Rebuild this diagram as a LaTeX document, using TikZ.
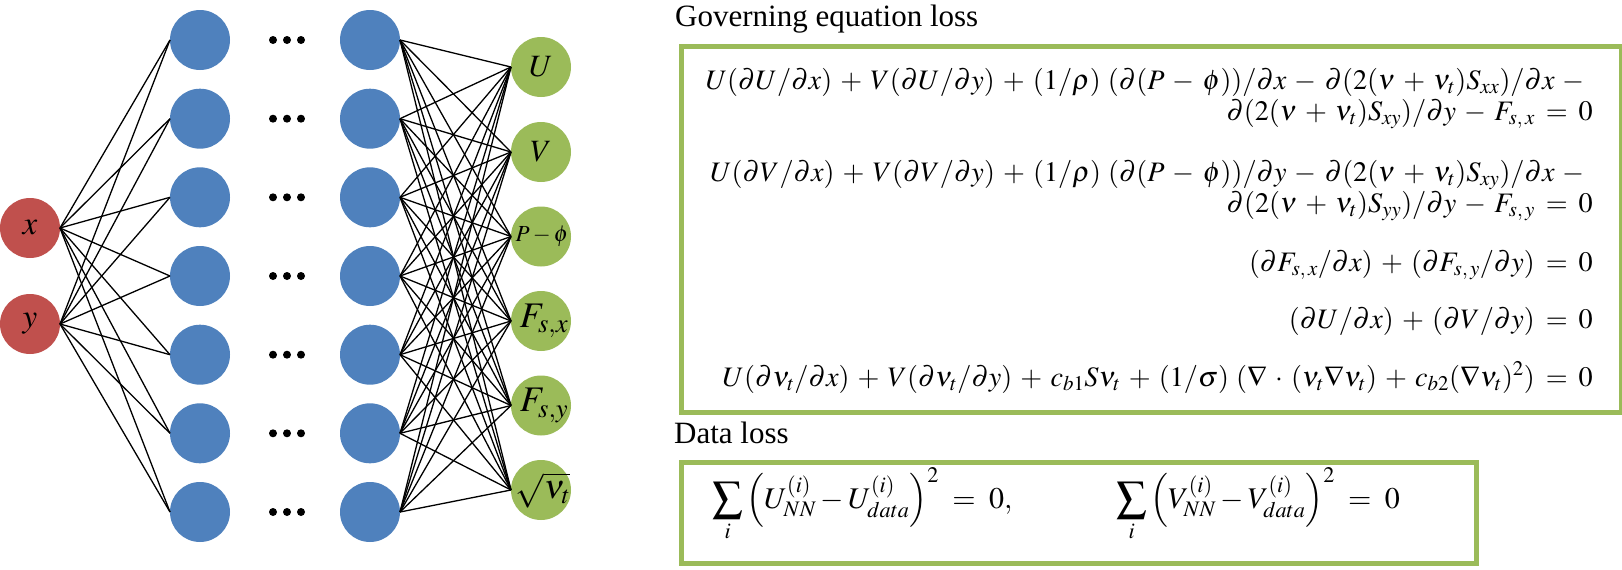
\documentclass[tikz,border=0pt]{standalone}
\usepackage{mathptmx}
\usepackage[no-math]{fontspec}
\setmainfont{Liberation Serif}
\definecolor{nred}{HTML}{C0504D}
\definecolor{nblue}{HTML}{4F81BD}
\definecolor{ngreen}{HTML}{9BBB59}
\newcommand{\eqfont}{\fontsize{28.2}{31}\selectfont\medmuskip=5.2mu plus 2mu minus 2mu\relax\thickmuskip=7mu plus 3mu\relax}
\newcommand{\datafont}{\fontsize{30}{34}\selectfont\thickmuskip=8mu\relax}
\begin{document}
\begin{tikzpicture}[x=1pt,y=-1pt, font=\fontsize{31}{36}\selectfont,
  neuron/.style={circle, minimum size=60pt, inner sep=0pt, outer sep=0pt},
  innode/.style={neuron, fill=nred},
  hidnode/.style={neuron, fill=nblue},
  outnode/.style={neuron, fill=ngreen},
  conn/.style={line width=1.3pt, black},
  lossbox/.style={draw=ngreen, line width=5pt, anchor=north west, inner sep=0pt},
  eqn/.style={anchor=base east, inner sep=0pt, font=\eqfont},
  title/.style={anchor=base west, inner sep=0pt},
  dataeq/.style={anchor=base west, inner sep=0pt, font=\datafont},
  dotmark/.style={circle, fill=black, minimum size=8pt, inner sep=0pt}
]
\useasboundingbox (0,0) rectangle (1622,570);
% input nodes
\node[innode, label={[font=\fontsize{33}{36}\selectfont]center:{$x$}}] (x) at (30,228) {};
\node[innode, label={[font=\fontsize{33}{36}\selectfont]center:{$y$}}] (y) at (30,324) {};
% hidden layers
\foreach \i/\yy in {1/40,2/118.7,3/197.3,4/276,5/354.7,6/433.3,7/512}{
  \node[hidnode] (a\i) at (200,\yy) {};
  \node[hidnode] (b\i) at (370,\yy) {};
  \node[dotmark] (d\i l) at (273,\yy) {};
  \node[dotmark] (d\i m) at (287,\yy) {};
  \node[dotmark] (d\i r) at (301,\yy) {};
}
% output nodes
\node[outnode, label={[font=\fontsize{31}{36}\selectfont]center:{$U$}}] (o1) at (541,67) {};
\node[outnode, label={[font=\fontsize{31}{36}\selectfont]center:{$V$}}] (o2) at (541,152) {};
\node[outnode, label={[font=\fontsize{23}{26}\selectfont, xshift=1pt]center:{$P-\phi$}}] (o3) at (541,236.5) {};
\node[outnode, label={[font=\fontsize{36}{40}\selectfont, xshift=3pt]center:{$F_{s,x}$}}] (o4) at (541,321) {};
\node[outnode, label={[font=\fontsize{36}{40}\selectfont, xshift=3pt]center:{$F_{s,y}$}}] (o5) at (541,405.5) {};
\node[outnode, label={[font=\fontsize{34}{40}\selectfont, xshift=2pt]center:{$\sqrt{\nu_t}$}}] (o6) at (541,490) {};
% connections
\foreach \i in {1,...,7}{
  \draw[conn] (x.east) -- (a\i.west);
  \draw[conn] (y.east) -- (a\i.west);
  \foreach \j in {1,...,6}{
    \draw[conn] (b\i.east) -- (o\j.west);
  }
}
% titles and boxes
\node[title] (tgov) at (675,27) {Governing equation loss};
\node[lossbox, minimum width=940pt, minimum height=366.5pt] (govbox) at (678.5,43.5) {};
\node[title] (tdata) at (674,443) {Data loss};
\node[lossbox, minimum width=795.5pt, minimum height=101pt] (databox) at (678.5,459.5) {};
% governing equations
\node[eqn] (e1) at (1593,89) {$U(\partial U/\partial x) + V(\partial U/\partial y) + (1/\rho)\ (\partial(P-\phi))/\partial x - \partial(2(\nu+\nu_t)S_{xx})/\partial x -{}$};
\node[eqn] (e2) at (1593,120) {$\partial(2(\nu+\nu_t)S_{xy})/\partial y - F_{s,\,x} = 0$};
\node[eqn] (e3) at (1593,181) {$U(\partial V/\partial x) + V(\partial V/\partial y) + (1/\rho)\ (\partial(P-\phi))/\partial y - \partial(2(\nu+\nu_t)S_{xy})/\partial x -{}$};
\node[eqn] (e4) at (1593,212) {$\partial(2(\nu+\nu_t)S_{yy})/\partial y - F_{s,\,y} = 0$};
\node[eqn] (e5) at (1593,271) {$(\partial F_{s,\,x}/\partial x) + (\partial F_{s,\,y}/\partial y) = 0$};
\node[eqn] (e6) at (1593,328) {$(\partial U/\partial x) + (\partial V/\partial y) = 0$};
\node[eqn] (e7) at (1593,386) {$U(\partial\nu_t/\partial x) + V(\partial\nu_t/\partial y) + c_{b1}S\nu_t + (1/\sigma)\ (\nabla\cdot(\nu_t\nabla\nu_t) + c_{b2}(\nabla\nu_t)^2) = 0$};
% data loss equations
\node[dataeq] (dl1) at (712,508) {$\displaystyle\sum_i\left(U^{(i)}_{NN}-U^{(i)}_{data}\right)^2 = 0,$};
\node[dataeq] (dl2) at (1116,508) {$\displaystyle\sum_i\left(V^{(i)}_{NN}-V^{(i)}_{data}\right)^2 = 0$};
\end{tikzpicture}
\end{document}
